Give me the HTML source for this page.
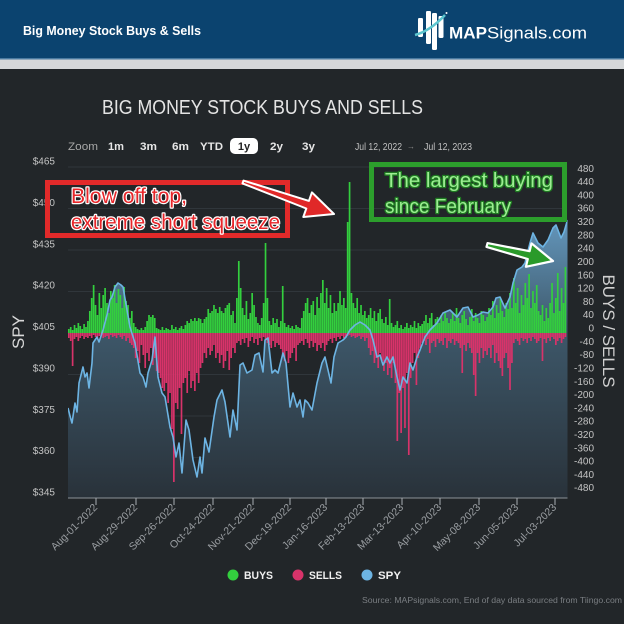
<!DOCTYPE html>
<html>
<head>
<meta charset="utf-8">
<style>
html,body{margin:0;padding:0;background:#222629;}
svg{display:block;}
text{font-family:"Liberation Sans",sans-serif;}
</style>
</head>
<body>
<svg width="624" height="624" viewBox="0 0 624 624" xmlns="http://www.w3.org/2000/svg">
<defs>
<linearGradient id="ag" gradientUnits="userSpaceOnUse" x1="0" y1="167" x2="0" y2="498">
<stop offset="0" stop-color="#80b7df"/>
<stop offset="0.2" stop-color="#5f8fb2"/>
<stop offset="0.5" stop-color="#3d5769"/>
<stop offset="1" stop-color="#29323a"/>
</linearGradient>
<clipPath id="pc"><rect x="68" y="160" width="499.5" height="338"/></clipPath>
</defs>
<rect width="624" height="624" fill="#222629"/>
<!-- header -->
<rect width="624" height="58" fill="#0b436f"/>
<rect y="58" width="624" height="1.5" fill="#4a7aa0"/>
<rect y="59.5" width="624" height="9.5" fill="#d5d7d9"/>
<text x="23" y="35" font-size="12.5" font-weight="bold" fill="#ffffff" textLength="178" lengthAdjust="spacingAndGlyphs">Big Money Stock Buys &amp; Sells</text>
<!-- logo -->
<rect x="418" y="18" width="5" height="19" rx="1.2" fill="#fff"/>
<rect x="426" y="11" width="5" height="33" rx="1.2" fill="#fff"/>
<rect x="432" y="13" width="5" height="37" rx="1.2" fill="#fff"/>
<rect x="438.5" y="16" width="5" height="22" rx="1.2" fill="#fff"/>
<path d="M415 35 Q430 31 445 15" stroke="#5cc6cf" stroke-width="2.5" fill="none"/>
<circle cx="446.5" cy="13" r="1" fill="#fff"/>
<text x="449" y="38.5" font-size="17" font-weight="bold" fill="#fff" textLength="38" lengthAdjust="spacingAndGlyphs">MAP</text>
<text x="487" y="38.5" font-size="17" fill="#fff" textLength="100" lengthAdjust="spacingAndGlyphs">Signals.com</text>
<!-- chart title -->
<text x="102" y="114" font-size="20" fill="#e4e4e4" textLength="321" lengthAdjust="spacingAndGlyphs">BIG MONEY STOCK BUYS AND SELLS</text>
<!-- zoom bar -->
<text x="68" y="150" font-size="11" fill="#a8a8a8" textLength="30" lengthAdjust="spacingAndGlyphs">Zoom</text>
<text x="108" y="150" font-size="11" font-weight="bold" fill="#e6e6e6" textLength="16" lengthAdjust="spacingAndGlyphs">1m</text>
<text x="140" y="150" font-size="11" font-weight="bold" fill="#e6e6e6" textLength="17" lengthAdjust="spacingAndGlyphs">3m</text>
<text x="172" y="150" font-size="11" font-weight="bold" fill="#e6e6e6" textLength="17" lengthAdjust="spacingAndGlyphs">6m</text>
<text x="200" y="150" font-size="11" font-weight="bold" fill="#e6e6e6" textLength="23" lengthAdjust="spacingAndGlyphs">YTD</text>
<rect x="230" y="138" width="28" height="16" rx="5" fill="#ffffff"/>
<text x="244" y="150" font-size="11" font-weight="bold" fill="#222" text-anchor="middle">1y</text>
<text x="270" y="150" font-size="11" font-weight="bold" fill="#e6e6e6" textLength="13" lengthAdjust="spacingAndGlyphs">2y</text>
<text x="302" y="150" font-size="11" font-weight="bold" fill="#e6e6e6" textLength="13" lengthAdjust="spacingAndGlyphs">3y</text>
<text x="355" y="150" font-size="10.5" fill="#c2c2c2" textLength="47" lengthAdjust="spacingAndGlyphs">Jul 12, 2022</text>
<text x="411" y="149" font-size="8" fill="#8a8a8a" text-anchor="middle">→</text>
<text x="424" y="150" font-size="10.5" fill="#c2c2c2" textLength="48" lengthAdjust="spacingAndGlyphs">Jul 12, 2023</text>

<!-- gridlines -->
<g stroke="#30363b" stroke-width="1">
<line x1="68" x2="567" y1="167" y2="167"/>
<line x1="68" x2="567" y1="208.5" y2="208.5"/>
<line x1="68" x2="567" y1="250" y2="250"/>
<line x1="68" x2="567" y1="291.5" y2="291.5"/>
<line x1="68" x2="567" y1="333" y2="333"/>
<line x1="68" x2="567" y1="374.5" y2="374.5"/>
<line x1="68" x2="567" y1="416" y2="416"/>
<line x1="68" x2="567" y1="457.5" y2="457.5"/>
</g>

<g clip-path="url(#pc)">
<!-- SPY area -->
<path fill="url(#ag)" d="M68,408 L70,416 72,423 75,403 77,412 79,383 83,367 85,377 87,373 89,388 92,363 93,343 97,337 99,342 103,330 107,315 110,300 112,297 115,287 118,283 121,285 123,287 127,310 130,327 135,343 140,373 143,377 146,387 148,373 152,360 155,337 158,377 162,393 165,397 170,427 173,437 176,457 179,443 182,473 186,420 189,430 193,460 197,477 200,457 202,473 205,438 209,452 214,417 217,400 222,390 225,402 230,437 233,410 237,430 240,365 243,363 247,373 252,370 255,355 259,353 263,372 265,340 268,338 272,373 275,370 278,373 283,353 286,363 290,407 293,393 297,407 300,400 303,417 305,400 308,403 312,410 317,383 322,363 325,357 328,370 331,383 334,357 338,343 343,340 346,337 350,330 355,325 360,322 365,325 370,330 373,340 377,357 380,355 383,365 387,357 390,363 393,357 397,377 400,390 403,377 407,383 410,363 413,370 417,357 420,350 425,337 430,330 437,323 443,313 450,310 457,317 463,308 468,307 473,317 478,315 483,312 488,313 493,307 496,298 500,297 505,308 510,297 513,283 517,270 522,267 525,263 530,243 533,233 538,243 543,247 548,240 553,228 556,225 561,238 564,232 567.5,220 L567.5,498 L68,498 Z"/>
<!-- bars -->
<g transform="translate(68.8,333) scale(1.91,1)" fill="none" stroke-width="0.88">
<path stroke="#33cf3e" d="M0 0V-4M1 0V-6M2 0V-3M3 0V-8M4 0V-5M5 0V-10M6 0V-7M7 0V-4M8 0V-9M9 0V-6M10 0V-12M11 0V-22M12 0V-35M13 0V-48M14 0V-28M15 0V-18M16 0V-40M17 0V-25M18 0V-38M19 0V-45M20 0V-30M21 0V-20M22 0V-42M23 0V-35M24 0V-48M25 0V-30M26 0V-44M27 0V-38M28 0V-25M29 0V-46M30 0V-32M31 0V-28M32 0V-15M33 0V-22M34 0V-10M35 0V-6M36 0V-4M37 0V-3M38 0V-5M39 0V-3M40 0V-6M41 0V-12M42 0V-18M43 0V-16M44 0V-18M45 0V-15M46 0V-5M47 0V-4M48 0V-3M49 0V-6M50 0V-3M51 0V-5M52 0V-4M53 0V-3M54 0V-8M55 0V-4M56 0V-6M57 0V-3M58 0V-5M59 0V-7M60 0V-4M61 0V-8M62 0V-12M63 0V-10M64 0V-14M65 0V-12M66 0V-15M67 0V-12M68 0V-15M69 0V-14M70 0V-10M71 0V-14M72 0V-16M73 0V-24M74 0V-20M75 0V-22M76 0V-28M77 0V-24M78 0V-20M79 0V-26M80 0V-22M81 0V-20M82 0V-25M83 0V-28M84 0V-30M85 0V-18M86 0V-22M87 0V-10M88 0V-35M89 0V-72M90 0V-45M91 0V-25M92 0V-18M93 0V-32M94 0V-14M95 0V-20M96 0V-40M97 0V-28M98 0V-16M99 0V-10M100 0V-8M101 0V-15M102 0V-30M103 0V-90M104 0V-35M105 0V-12M106 0V-8M107 0V-15M108 0V-10M109 0V-14M110 0V-6M111 0V-12M112 0V-47M113 0V-10M114 0V-6M115 0V-8M116 0V-5M117 0V-7M118 0V-4M119 0V-8M120 0V-6M121 0V-5M122 0V-15M123 0V-22M124 0V-30M125 0V-35M126 0V-20M127 0V-28M128 0V-32M129 0V-18M130 0V-36M131 0V-25M132 0V-40M133 0V-53M134 0V-30M135 0V-45M136 0V-25M137 0V-38M138 0V-20M139 0V-30M140 0V-22M141 0V-30M142 0V-42M143 0V-28M144 0V-35M145 0V-25M146 0V-111M147 0V-151M148 0V-40M149 0V-30M150 0V-25M151 0V-35M152 0V-20M153 0V-28M154 0V-18M155 0V-22M156 0V-15M157 0V-18M158 0V-25M159 0V-15M160 0V-22M161 0V-12M162 0V-20M163 0V-24M164 0V-14M165 0V-10M166 0V-16M167 0V-8M168 0V-34M169 0V-10M170 0V-6M171 0V-8M172 0V-12M173 0V-5M174 0V-8M175 0V-4M176 0V-6M177 0V-10M178 0V-5M179 0V-8M180 0V-6M181 0V-12M182 0V-5M183 0V-10M184 0V-7M185 0V-9M186 0V-12M187 0V-18M188 0V-10M189 0V-15M190 0V-20M191 0V-8M192 0V-14M193 0V-16M194 0V-10M195 0V-18M196 0V-12M197 0V-20M198 0V-15M199 0V-10M200 0V-14M201 0V-20M202 0V-12M203 0V-25M204 0V-15M205 0V-10M206 0V-18M207 0V-22M208 0V-14M209 0V-8M210 0V-16M211 0V-24M212 0V-12M213 0V-20M214 0V-15M215 0V-10M216 0V-22M217 0V-18M218 0V-12M219 0V-16M220 0V-25M221 0V-18M222 0V-32M223 0V-15M224 0V-28M225 0V-20M226 0V-35M227 0V-22M228 0V-16M229 0V-30M230 0V-24M231 0V-40M232 0V-25M233 0V-55M234 0V-30M235 0V-45M236 0V-20M237 0V-38M238 0V-28M239 0V-50M240 0V-35M241 0V-59M242 0V-25M243 0V-42M244 0V-30M245 0V-48M246 0V-22M247 0V-18M248 0V-28M249 0V-12M250 0V-25M251 0V-15M252 0V-30M253 0V-50M254 0V-20M255 0V-35M256 0V-60M257 0V-22M258 0V-45M259 0V-30M260 0V-66"/>
<path stroke="#d8336a" d="M0 0V5M1 0V8M2 0V33M3 0V6M4 0V4M5 0V8M6 0V5M7 0V3M8 0V6M9 0V4M10 0V5M11 0V3M12 0V5M13 0V2M14 0V4M15 0V6M16 0V3M17 0V2M18 0V5M19 0V4M20 0V3M21 0V6M22 0V2M23 0V4M24 0V3M25 0V5M26 0V2M27 0V4M28 0V6M29 0V3M30 0V8M31 0V5M32 0V10M33 0V12M34 0V15M35 0V25M36 0V18M37 0V30M38 0V12M39 0V22M40 0V35M41 0V20M42 0V28M43 0V15M44 0V32M45 0V25M46 0V38M47 0V40M48 0V45M49 0V55M50 0V58M51 0V50M52 0V70M53 0V60M54 0V96M55 0V149M56 0V70M57 0V76M58 0V55M59 0V101M60 0V50M61 0V45M62 0V60M63 0V38M64 0V55M65 0V48M66 0V58M67 0V40M68 0V50M69 0V35M70 0V30M71 0V20M72 0V25M73 0V15M74 0V22M75 0V18M76 0V12M77 0V25M78 0V20M79 0V30M80 0V22M81 0V35M82 0V28M83 0V18M84 0V37M85 0V25M86 0V15M87 0V20M88 0V10M89 0V8M90 0V12M91 0V6M92 0V10M93 0V5M94 0V14M95 0V8M96 0V4M97 0V10M98 0V6M99 0V12M100 0V5M101 0V8M102 0V4M103 0V6M104 0V10M105 0V12M106 0V15M107 0V8M108 0V14M109 0V10M110 0V12M111 0V16M112 0V22M113 0V28M114 0V18M115 0V30M116 0V25M117 0V20M118 0V15M119 0V28M120 0V12M121 0V10M122 0V8M123 0V12M124 0V6M125 0V10M126 0V15M127 0V8M128 0V14M129 0V10M130 0V18M131 0V12M132 0V15M133 0V10M134 0V18M135 0V12M136 0V8M137 0V6M138 0V10M139 0V5M140 0V8M141 0V4M142 0V6M143 0V3M144 0V5M145 0V4M146 0V3M147 0V2M148 0V4M149 0V3M150 0V5M151 0V4M152 0V3M153 0V6M154 0V4M155 0V8M156 0V5M157 0V15M158 0V22M159 0V18M160 0V30M161 0V25M162 0V35M163 0V20M164 0V28M165 0V38M166 0V30M167 0V42M168 0V35M169 0V45M170 0V30M171 0V50M172 0V108M173 0V60M174 0V100M175 0V55M176 0V95M177 0V40M178 0V122M179 0V45M180 0V30M181 0V20M182 0V52M183 0V25M184 0V15M185 0V10M186 0V8M187 0V12M188 0V6M189 0V20M190 0V10M191 0V8M192 0V14M193 0V6M194 0V10M195 0V8M196 0V12M197 0V5M198 0V15M199 0V8M200 0V10M201 0V6M202 0V12M203 0V8M204 0V10M205 0V15M206 0V40M207 0V12M208 0V18M209 0V10M210 0V15M211 0V20M212 0V42M213 0V63M214 0V20M215 0V30M216 0V15M217 0V25M218 0V18M219 0V22M220 0V15M221 0V25M222 0V12M223 0V30M224 0V20M225 0V28M226 0V35M227 0V43M228 0V25M229 0V20M230 0V35M231 0V57M232 0V30M233 0V10M234 0V6M235 0V8M236 0V12M237 0V5M238 0V8M239 0V6M240 0V10M241 0V5M242 0V8M243 0V4M244 0V6M245 0V10M246 0V8M247 0V5M248 0V28M249 0V6M250 0V10M251 0V5M252 0V8M253 0V4M254 0V6M255 0V12M256 0V8M257 0V5M258 0V10M259 0V6M260 0V4"/>
</g>
<!-- SPY line -->
<polyline fill="none" stroke="#6db4e3" stroke-width="1.6" stroke-linejoin="round" points="68,408 70,416 72,423 75,403 77,412 79,383 83,367 85,377 87,373 89,388 92,363 93,343 97,337 99,342 103,330 107,315 110,300 112,297 115,287 118,283 121,285 123,287 127,310 130,327 135,343 140,373 143,377 146,387 148,373 152,360 155,337 158,377 162,393 165,397 170,427 173,437 176,457 179,443 182,473 186,420 189,430 193,460 197,477 200,457 202,473 205,438 209,452 214,417 217,400 222,390 225,402 230,437 233,410 237,430 240,365 243,363 247,373 252,370 255,355 259,353 263,372 265,340 268,338 272,373 275,370 278,373 283,353 286,363 290,407 293,393 297,407 300,400 303,417 305,400 308,403 312,410 317,383 322,363 325,357 328,370 331,383 334,357 338,343 343,340 346,337 350,330 355,325 360,322 365,325 370,330 373,340 377,357 380,355 383,365 387,357 390,363 393,357 397,377 400,390 403,377 407,383 410,363 413,370 417,357 420,350 425,337 430,330 437,323 443,313 450,310 457,317 463,308 468,307 473,317 478,315 483,312 488,313 493,307 496,298 500,297 505,308 510,297 513,283 517,270 522,267 525,263 530,243 533,233 538,243 543,247 548,240 553,228 556,225 561,238 564,232 567.5,220"/>
</g>

<!-- x axis -->
<line x1="68" x2="567.5" y1="498" y2="498" stroke="#8c9298" stroke-width="1"/>
<g stroke="#a8adb2" stroke-width="1">
<line x1="96" x2="96" y1="498" y2="505"/>
<line x1="136" x2="136" y1="498" y2="505"/>
<line x1="174" x2="174" y1="498" y2="505"/>
<line x1="213" x2="213" y1="498" y2="505"/>
<line x1="253" x2="253" y1="498" y2="505"/>
<line x1="290" x2="290" y1="498" y2="505"/>
<line x1="326" x2="326" y1="498" y2="505"/>
<line x1="363" x2="363" y1="498" y2="505"/>
<line x1="402" x2="402" y1="498" y2="505"/>
<line x1="440" x2="440" y1="498" y2="505"/>
<line x1="479" x2="479" y1="498" y2="505"/>
<line x1="517" x2="517" y1="498" y2="505"/>
<line x1="555" x2="555" y1="498" y2="505"/>
</g>
<g font-size="10.5" fill="#9a9ea2" text-anchor="end">
<text transform="translate(98,508) rotate(-45)">Aug-01-2022</text>
<text transform="translate(138,508) rotate(-45)">Aug-29-2022</text>
<text transform="translate(176,508) rotate(-45)">Sep-26-2022</text>
<text transform="translate(215,508) rotate(-45)">Oct-24-2022</text>
<text transform="translate(255,508) rotate(-45)">Nov-21-2022</text>
<text transform="translate(292,508) rotate(-45)">Dec-19-2022</text>
<text transform="translate(328,508) rotate(-45)">Jan-16-2023</text>
<text transform="translate(365,508) rotate(-45)">Feb-13-2023</text>
<text transform="translate(404,508) rotate(-45)">Mar-13-2023</text>
<text transform="translate(442,508) rotate(-45)">Apr-10-2023</text>
<text transform="translate(481,508) rotate(-45)">May-08-2023</text>
<text transform="translate(519,508) rotate(-45)">Jun-05-2023</text>
<text transform="translate(557,508) rotate(-45)">Jul-03-2023</text>
</g>

<!-- left axis labels -->
<g font-size="10" fill="#c4c4c4" text-anchor="end">
<text x="55" y="164.5">$465</text>
<text x="55" y="205.9">$450</text>
<text x="55" y="247.3">$435</text>
<text x="55" y="288.6">$420</text>
<text x="55" y="330">$405</text>
<text x="55" y="371.4">$390</text>
<text x="55" y="412.8">$375</text>
<text x="55" y="454.1">$360</text>
<text x="55" y="495.5">$345</text>
</g>
<text transform="translate(24,332) rotate(-90)" font-size="17" fill="#d8d8d8" text-anchor="middle">SPY</text>

<!-- right axis labels -->
<g font-size="10" fill="#c4c4c4" text-anchor="end">
<text x="594" y="171.8">480</text>
<text x="594" y="185.1">440</text>
<text x="594" y="198.4">400</text>
<text x="594" y="211.7">360</text>
<text x="594" y="225">320</text>
<text x="594" y="238.4">280</text>
<text x="594" y="251.7">240</text>
<text x="594" y="265">200</text>
<text x="594" y="278.3">160</text>
<text x="594" y="291.6">120</text>
<text x="594" y="304.9">80</text>
<text x="594" y="318.2">40</text>
<text x="594" y="331.5">0</text>
<text x="594" y="344.8">-40</text>
<text x="594" y="358.2">-80</text>
<text x="594" y="371.5">-120</text>
<text x="594" y="384.8">-160</text>
<text x="594" y="398.1">-200</text>
<text x="594" y="411.4">-240</text>
<text x="594" y="424.7">-280</text>
<text x="594" y="438">-320</text>
<text x="594" y="451.3">-360</text>
<text x="594" y="464.6">-400</text>
<text x="594" y="478">-440</text>
<text x="594" y="491.2">-480</text>
</g>
<text transform="translate(603,331) rotate(90)" font-size="17" fill="#d0d0d0" text-anchor="middle" textLength="113" lengthAdjust="spacingAndGlyphs">BUYS / SELLS</text>

<!-- annotations -->
<rect x="47.5" y="182.5" width="240" height="53" fill="none" stroke="#e22a2a" stroke-width="5"/>
<g font-size="21" fill="#e8262a" stroke="#ffffff" stroke-width="2.4" paint-order="stroke" stroke-linejoin="round">
<text x="71" y="203" textLength="116" lengthAdjust="spacingAndGlyphs">Blow off top,</text>
<text x="71" y="229" textLength="209" lengthAdjust="spacingAndGlyphs">extreme short squeeze</text>
</g>
<polygon points="243.5,180.6 308.9,200.9 311.9,192.4 334,214 303.3,217 306.3,208.5 242.5,183.4" fill="#e02828" stroke="#ffffff" stroke-width="2" stroke-linejoin="round"/>

<rect x="371.5" y="164.5" width="193" height="55" fill="none" stroke="#2c9e2c" stroke-width="5"/>
<g font-size="20.5" fill="#9cee92" stroke="#1f7a22" stroke-width="2.6" paint-order="stroke" stroke-linejoin="round">
<text x="385" y="187" textLength="168" lengthAdjust="spacingAndGlyphs">The largest buying</text>
<text x="385" y="213" textLength="126" lengthAdjust="spacingAndGlyphs">since February</text>
</g>
<polygon points="487.5,243.1 529.6,251.2 531.5,243.4 553,261 525.9,266.8 527.8,259 486.5,246.9" fill="#2a9a2a" stroke="#ffffff" stroke-width="2.2" stroke-linejoin="round"/>

<!-- legend -->
<circle cx="233" cy="575" r="5.5" fill="#33cf3e"/>
<text x="244" y="579" font-size="11" font-weight="bold" fill="#f0f0f0" textLength="29" lengthAdjust="spacingAndGlyphs">BUYS</text>
<circle cx="298" cy="575" r="5.5" fill="#d8336a"/>
<text x="309" y="579" font-size="11" font-weight="bold" fill="#f0f0f0" textLength="33" lengthAdjust="spacingAndGlyphs">SELLS</text>
<circle cx="367" cy="575" r="5.5" fill="#6db4e3"/>
<text x="378" y="579" font-size="11" font-weight="bold" fill="#f0f0f0" textLength="23" lengthAdjust="spacingAndGlyphs">SPY</text>

<text x="362" y="603" font-size="8" fill="#7a7e82" textLength="260" lengthAdjust="spacingAndGlyphs">Source: MAPsignals.com, End of day data sourced from Tiingo.com</text>
</svg>
</body>
</html>
